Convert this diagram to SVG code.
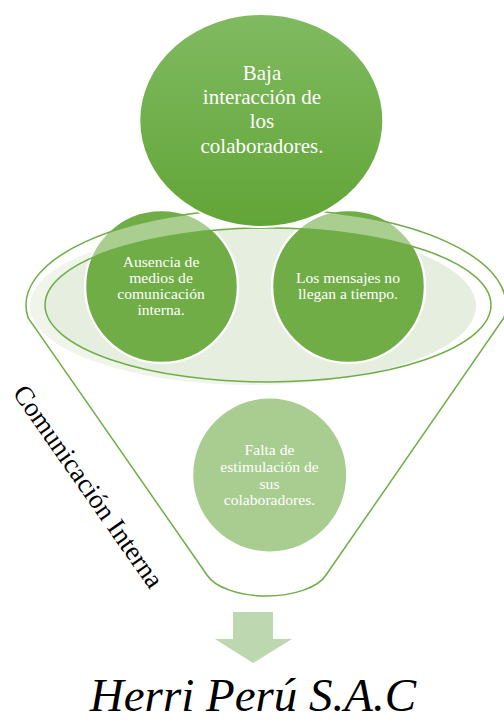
<svg xmlns="http://www.w3.org/2000/svg" width="504" height="722" viewBox="0 0 504 722">
<defs>
<linearGradient id="gTop" x1="0" y1="0" x2="0" y2="1">
<stop offset="0" stop-color="#80ba61"/>
<stop offset="1" stop-color="#62a537"/>
</linearGradient>
<style>
.c{fill:#70ad47;stroke:#fff;stroke-width:2.5}
.t{font-family:"Liberation Serif","Times New Roman",serif;fill:#fff;text-anchor:middle}
.s{font-size:15.6px}
.ln{fill:none;stroke:#70ad47;stroke-width:1.5}
</style>
</defs>
<rect width="504" height="722" fill="#fff"/>
<ellipse id="opening" cx="253" cy="306" rx="223" ry="79" fill="#e6eee0"/>
<g id="node-ausencia">
<circle class="c" cx="161.5" cy="286.5" r="76.5"/>
<text class="t s"><tspan x="161" y="267">Ausencia de</tspan><tspan x="161" y="283">medios de</tspan><tspan x="161" y="299">comunicación</tspan><tspan x="161" y="315">interna.</tspan></text>
</g>
<g id="node-mensajes">
<circle class="c" cx="348.5" cy="286.5" r="76.5"/>
<text class="t s"><tspan x="348" y="283">Los mensajes no</tspan><tspan x="348" y="299">llegan a tiempo.</tspan></text>
</g>
<g id="funnel">
<path d="M28.2,318 A240,96 0 1 1 503.8,318 L326,575 C318,588 292,596 266.5,596 C241,596 215,588 207,575 Z M45,305 A223,77 0 1 0 491,305 A223,77 0 1 0 45,305 Z" fill="#fff" fill-opacity="0.4" fill-rule="evenodd" stroke="#70ad47" stroke-width="1.5"/>
</g>
<g id="node-baja">
<ellipse cx="261.3" cy="120.5" rx="122" ry="106.5" fill="url(#gTop)" stroke="#fff" stroke-width="2"/>
<text class="t" font-size="21"><tspan x="262" y="80">Baja</tspan><tspan x="262" y="104">interacción de</tspan><tspan x="262" y="128">los</tspan><tspan x="262" y="153">colaboradores.</tspan></text>
</g>
<g id="node-falta">
<circle cx="269.7" cy="475" r="76.5" fill="#a9cd90"/>
<text class="t s"><tspan x="269.5" y="455">Falta de</tspan><tspan x="269.5" y="472">estimulación de</tspan><tspan x="269.5" y="488.5">sus</tspan><tspan x="269.5" y="505">colaboradores.</tspan></text>
</g>
<text id="label-comunicacion" transform="translate(12,393) rotate(55)" font-family="Liberation Serif, Times New Roman, serif" font-size="27" fill="#000">Comunicación Interna</text>
<g id="connectors">
<polygon points="233,612 273,612 273,639 292,639 253,663 215,639 233,639" fill="#bdd7b1"/>
</g>
<g id="node-herri">
<text x="253" y="711" font-family="Liberation Serif, Times New Roman, serif" font-style="italic" font-size="47" fill="#000" text-anchor="middle">Herri Perú S.A.C</text>
</g>
</svg>
